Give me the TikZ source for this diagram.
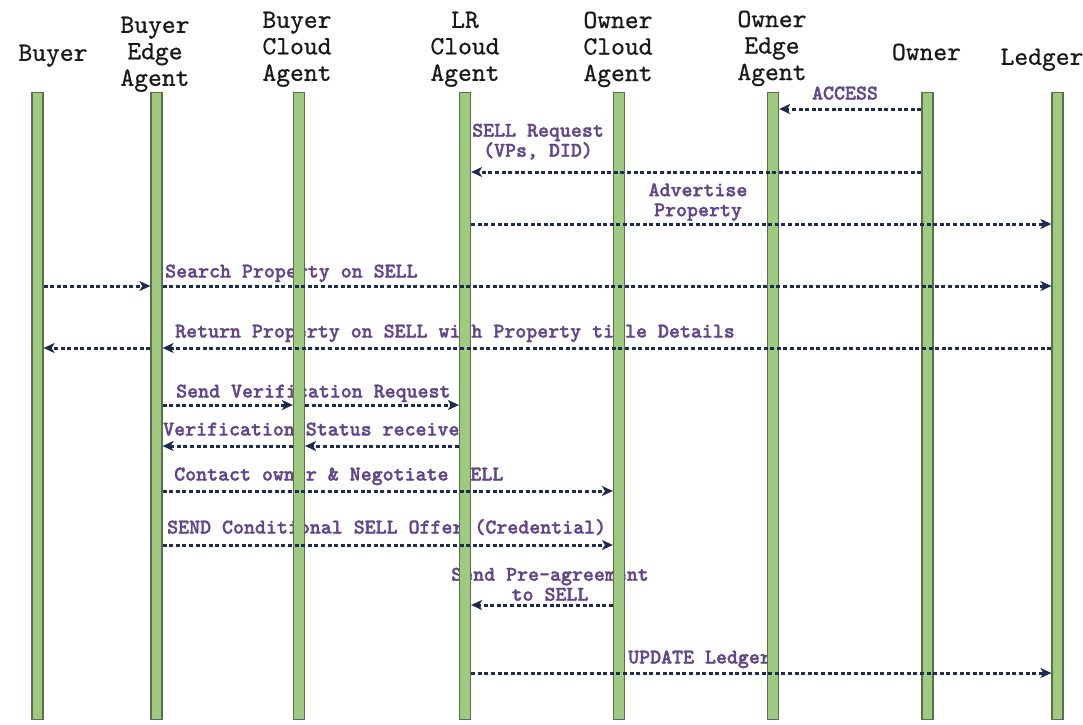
\documentclass[tikz,border=0pt]{standalone}
\usepackage{fontspec}
\usetikzlibrary{arrows.meta}
\newfontfamily\headfont{lmmono10-regular.otf}[FakeBold=0.7]
\newfontfamily\lblfont{lmmonolt10-bold.otf}[FakeBold=1.6]
\definecolor{barfill}{HTML}{9FCB80}
\definecolor{barline}{HTML}{5B6E4F}
\definecolor{msgline}{HTML}{1C2B4F}
\definecolor{msgtext}{HTML}{62458A}

\begin{document}
\begin{tikzpicture}[x=1pt,y=-1pt,
  head/.style={font=\headfont\fontsize{26.3}{26.5}\selectfont, align=center,
    inner sep=0pt, anchor=north, text=black!90},
  lbl/.style={font=\lblfont\fontsize{20.9}{20}\selectfont,
    text=msgtext, inner sep=0pt},
  life/.style={draw=barline, fill=barfill, line width=1.2pt, minimum width=11pt,
    minimum height=627pt, inner sep=0pt, anchor=north},
  msg/.style={draw=msgline, line width=3pt, dash pattern=on 4pt off 2.6pt,
    -{Stealth[length=11pt,width=10pt,inset=3pt]}},
]
\useasboundingbox (0,0) rectangle (1083,724);

% participant headings
\node[head] (hBuyer)  at (53,44.5)    {Buyer};
\node[head] (hBEdge)  at (155,16.5)   {Buyer\\Edge\\Agent};
\node[head] (hBCloud) at (297,11.5)   {Buyer\\Cloud\\Agent};
\node[head] (hLR)     at (465,11.5)   {LR\\Cloud\\Agent};
\node[head] (hOCloud) at (618,11.5)   {Owner\\Cloud\\Agent};
\node[head] (hOEdge)  at (772,10.5)   {Owner\\Edge\\Agent};
\node[head] (hOwner)  at (926.5,43.5) {Owner};
\node[head] (hLedger) at (1042,48.5)  {Ledger};

% message labels
\node[lbl, anchor=base] (tAccess) at (845,99.5) {ACCESS};
\node[lbl, anchor=north, align=center] (tSell) at (538,123.5) {SELL Request\\(VPs, DID)};
\node[lbl, anchor=north, align=center] (tAdv) at (698,183) {Advertise\\Property};
\node[lbl, anchor=base west] (tSearch) at (165,277.5) {Search Property on SELL};
\node[lbl, anchor=base west] (tReturn) at (175,337.5) {Return Property on SELL with Property title Details};
\node[lbl, anchor=base west] (tVReq) at (176,397.5) {Send Verification Request};
\node[lbl, anchor=base west] (tVStat) at (163,435.5) {Verification Status received};
\node[lbl, anchor=base west] (tContact) at (174,480.5) {Contact owner \& Negotiate SELL};
\node[lbl, anchor=base west] (tOffer) at (167,533.5) {SEND Conditional SELL Offer (Credential)};
\node[lbl, anchor=north, align=center] (tPre) at (550,567.5) {Send Pre-agreement\\to SELL};
\node[lbl, anchor=base west] (tUpdate) at (628,663.5) {UPDATE Ledger};

% lifelines
\node[life] (buyer)  at (37.5,92)   {};
\node[life] (bedge)  at (156.5,92)  {};
\node[life] (bcloud) at (299,92)    {};
\node[life] (lr)     at (465,92)    {};
\node[life] (ocloud) at (619,92)    {};
\node[life] (oedge)  at (773,92)    {};
\node[life] (owner)  at (927.5,92)  {};
\node[life] (ledger) at (1057.5,92) {};

% message rows
\coordinate (m1)  at (0,109);
\coordinate (m2)  at (0,172);
\coordinate (m3)  at (0,224);
\coordinate (m4)  at (0,286);
\coordinate (m5)  at (0,348);
\coordinate (m6)  at (0,405);
\coordinate (m7)  at (0,446);
\coordinate (m8)  at (0,491);
\coordinate (m9)  at (0,545);
\coordinate (m10) at (0,605);
\coordinate (m11) at (0,673);

% messages
\draw[msg] (owner.west |- m1) -- (oedge.east |- m1);
\draw[msg] (owner.west |- m2) -- (lr.east |- m2);
\draw[msg] (lr.east |- m3) -- (ledger.west |- m3);
\draw[msg] (buyer.east |- m4) -- (bedge.west |- m4);
\draw[msg] (bedge.east |- m4) -- (ledger.west |- m4);
\draw[msg] (ledger.west |- m5) -- (bedge.east |- m5);
\draw[msg] (bedge.west |- m5) -- (buyer.east |- m5);
\draw[msg] (bedge.east |- m6) -- (bcloud.west |- m6);
\draw[msg] (bcloud.east |- m6) -- (lr.west |- m6);
\draw[msg] (lr.west |- m7) -- (bcloud.east |- m7);
\draw[msg] (bcloud.west |- m7) -- (bedge.east |- m7);
\draw[msg] (bedge.east |- m8) -- (ocloud.west |- m8);
\draw[msg] (bedge.east |- m9) -- (ocloud.west |- m9);
\draw[msg] (ocloud.west |- m10) -- (lr.east |- m10);
\draw[msg] (lr.east |- m11) -- (ledger.west |- m11);
\end{tikzpicture}
\end{document}
